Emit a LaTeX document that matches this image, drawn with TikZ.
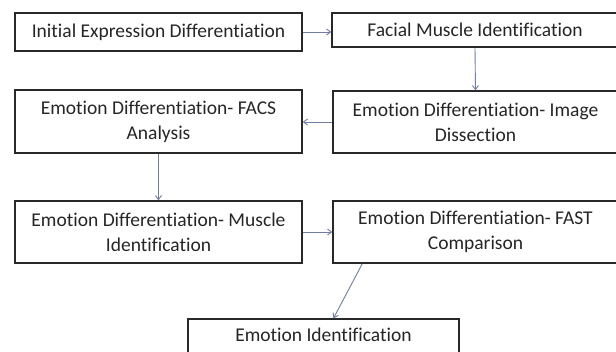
\documentclass[tikz,border=0pt]{standalone}
\usepackage{fontspec}
\setmainfont{Carlito}[Ligatures=NoCommon]
\usetikzlibrary{arrows.meta}

\definecolor{flowblue}{RGB}{112,126,164}
\definecolor{boxline}{RGB}{40,40,40}

\begin{document}
\begin{tikzpicture}[x=1pt,y=-1pt,
    stagebox/.style={draw=boxline,line width=1.5pt,fill=white,inner sep=0pt,
        align=center,text=black!85,font=\fontsize{19.5}{25}\selectfont},
    flow/.style={draw=flowblue,line width=0.9pt,-{Straight Barb[length=4pt,width=6pt]}}]
        % \draw[help lines] grid(616,351);
        \clip (0,0) rectangle (616,351);
        \fill[white] (0,0) rectangle (616,351);

        \node[stagebox,minimum width=287pt,minimum height=38pt] (initial) at (158.5,32) {Initial Expression Differentiation};
        \node[stagebox,minimum width=286pt,minimum height=34pt] (facial) at (475,30) {Facial Muscle Identification};

        \node[stagebox,minimum width=287pt,minimum height=63pt] (facs) at (158.5,121.5) {Emotion Differentiation- FACS\\Analysis};
        \node[stagebox,minimum width=285pt,minimum height=62pt] (dissect) at (475.5,122) {Emotion Differentiation- Image\\Dissection};

        \node[stagebox,minimum width=287pt,minimum height=62pt] (muscle) at (158.5,232) {Emotion Differentiation- Muscle\\Identification};
        \node[stagebox,minimum width=285pt,minimum height=62pt] (fast) at (475.5,232) {Emotion Differentiation- FAST\\Comparison};

        \node[stagebox,minimum width=271pt,minimum height=46pt,text depth=14pt] (emotion) at (323.5,342) {Emotion Identification};

        \draw[flow] (initial.east) -- (facial.west |- initial.east);
        \draw[flow] (facial.south) -- (dissect.north);
        \draw[flow] (dissect.west) -- (facs.east |- dissect.west);
        \draw[flow] (facs.south) -- (muscle.north);
        \draw[flow] (muscle.east) -- (fast.west |- muscle.east);
        \draw[flow] ([xshift=30pt]fast.south west) -- ([xshift=10pt]emotion.north);
\end{tikzpicture}
\end{document}
